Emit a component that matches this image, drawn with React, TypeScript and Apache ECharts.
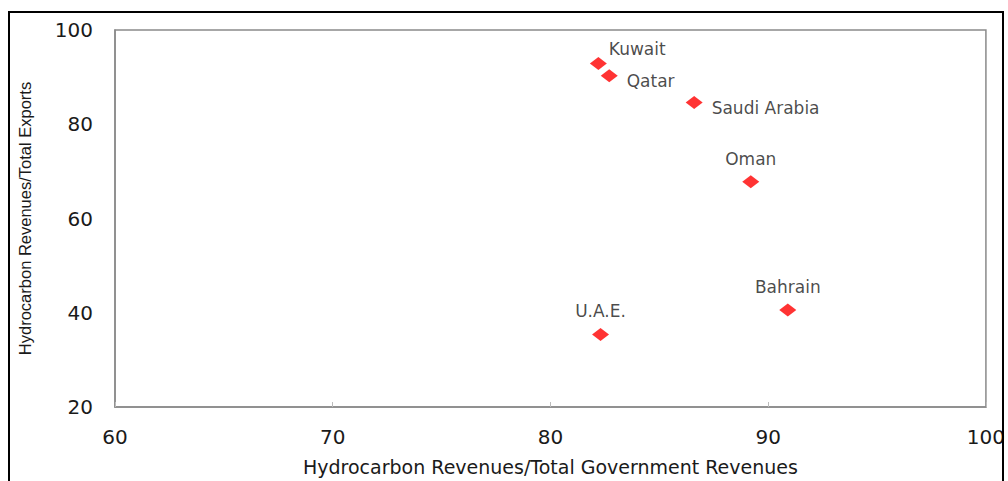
import React, { useEffect, useRef } from "react";
import * as echarts from "echarts";

const countries = ["Kuwait", "Qatar", "Saudi Arabia", "Oman", "Bahrain", "U.A.E."];
const govRevenueShare = [82.2, 82.7, 86.6, 89.2, 90.9, 82.3];
const exportShare = [92.9, 90.3, 84.6, 67.8, 40.6, 35.4];
const labelSides = ["topRight", "right", "right", "top", "top", "top"];
const xTicks = [60, 70, 80, 90, 100];
const yTicks = [20, 40, 60, 80, 100];

export default function App() {
  const ref = useRef<HTMLDivElement>(null);
  useEffect(() => {
    document.body.style.margin = "0";
    document.body.style.overflow = "hidden";
    const chart = echarts.init(ref.current!, null, { renderer: "svg" });
    const data = countries.map((c, i) => {
      const side = labelSides[i];
      let label: any = { position: "top", distance: 8 };
      if (side === "right") label = { position: "right", distance: 9, offset: [0, 5] };
      if (side === "topRight") label = { position: "right", distance: 2, offset: [0, -14] };
      return { name: c, value: [govRevenueShare[i], exportShare[i]], label };
    });
    chart.setOption({
      animation: false,
      grid: { left: 115, top: 30, width: 875, height: 381, show: true, borderColor: "#8a8a8a", borderWidth: 1.5 },
      xAxis: {
        type: "value",
        min: xTicks[0],
        max: xTicks[xTicks.length - 1],
        interval: 10,
        splitLine: { show: false },
        axisLine: { show: true, lineStyle: { color: "#8a8a8a", width: 1.5 } },
        axisTick: { show: true, inside: true, length: 5, lineStyle: { color: "#bbb" } },
        axisLabel: { margin: 20, fontSize: 20, color: "#1a1a1a", fontFamily: "DejaVu Sans" },
        name: "Hydrocarbon Revenues/Total Government Revenues",
        nameLocation: "middle",
        nameGap: 50,
        nameTextStyle: { fontSize: 19, color: "#1a1a1a", fontFamily: "DejaVu Sans" },
      },
      yAxis: {
        type: "value",
        min: yTicks[0],
        max: yTicks[yTicks.length - 1],
        interval: 20,
        splitLine: { show: false },
        axisLine: { show: true, lineStyle: { color: "#8a8a8a", width: 1.5 } },
        axisTick: { show: false },
        axisLabel: { margin: 22, fontSize: 20, color: "#1a1a1a", fontFamily: "DejaVu Sans" },
        name: "Hydrocarbon Revenues/Total Exports",
        nameLocation: "middle",
        nameGap: 82,
        nameTextStyle: { fontSize: 16.5, color: "#1a1a1a", fontFamily: "Liberation Sans Narrow, Liberation Sans" },
      },
      series: [
        {
          type: "scatter",
          symbol: "diamond",
          symbolSize: [17, 13],
          itemStyle: { color: "#ff0000" },
          data,
          label: { show: true, formatter: "{b}", fontSize: 17, color: "#1a1a1a", fontFamily: "DejaVu Sans" },
        },
      ],
    });
    return () => chart.dispose();
  }, []);
  return (
    <div style={{ position: "relative", width: 1008, height: 481, overflow: "hidden" }}>
      <div ref={ref} style={{ position: "absolute", left: 0, top: 0, width: 1008, height: 481 }} />
      <div
        style={{
          position: "absolute",
          left: 8,
          top: 11,
          width: 996,
          height: 490,
          border: "2px solid #000",
          boxSizing: "border-box",
          pointerEvents: "none",
        }}
      />
    </div>
  );
}
